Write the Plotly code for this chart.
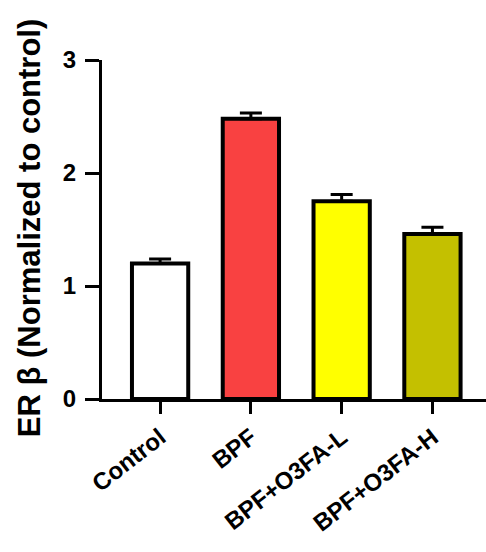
import plotly.graph_objects as go

# Group labels, mean expression (normalized to control) and SEM
groups = ["Control", "BPF", "BPF+O3FA-L", "BPF+O3FA-H"]
means = [1.20, 2.48, 1.75, 1.46]
sem = [0.04, 0.05, 0.06, 0.06]
bar_colors = ["#FFFFFF", "#F94141", "#FFFF00", "#C4C000"]
y_ticks = [0, 1, 2, 3]

FONT = "Liberation Sans"

fig = go.Figure()
fig.add_trace(go.Bar(
    x=groups,
    y=means,
    width=0.62,
    marker=dict(color=bar_colors, line=dict(color="black", width=4)),
    error_y=dict(type="data", array=sem, arrayminus=[0] * len(sem),
                 symmetric=False, color="black", thickness=3, width=11),
))

fig.update_layout(
    width=486, height=552,
    margin=dict(l=102, r=0, t=60, b=153),
    paper_bgcolor="white", plot_bgcolor="white",
    showlegend=False,
    font=dict(family=FONT, color="black"),
)
fig.update_yaxes(
    range=[0, 3], tickvals=y_ticks,
    showline=True, linecolor="black", linewidth=3,
    ticks="outside", ticklen=14, tickwidth=3, tickcolor="black",
    showgrid=False, zeroline=False,
    tickfont=dict(family=FONT, size=24, color="black", weight="bold"),
    ticklabelstandoff=4,
)
fig.update_xaxes(
    range=[-0.64, 3.59],
    showline=True, linecolor="black", linewidth=3,
    ticks="outside", ticklen=12, tickwidth=3, tickcolor="black",
    showgrid=False, zeroline=False,
    tickangle=-38,
    tickfont=dict(family=FONT, size=24, color="black", weight="bold"),
)
fig.add_annotation(
    text="ER β (Normalized to control)",
    xref="paper", yref="paper",
    x=-0.19, y=0.504, xanchor="center", yanchor="middle",
    textangle=-90, showarrow=False,
    font=dict(family=FONT, size=31, color="black", weight="bold"),
)

fig.write_html("out.html")
